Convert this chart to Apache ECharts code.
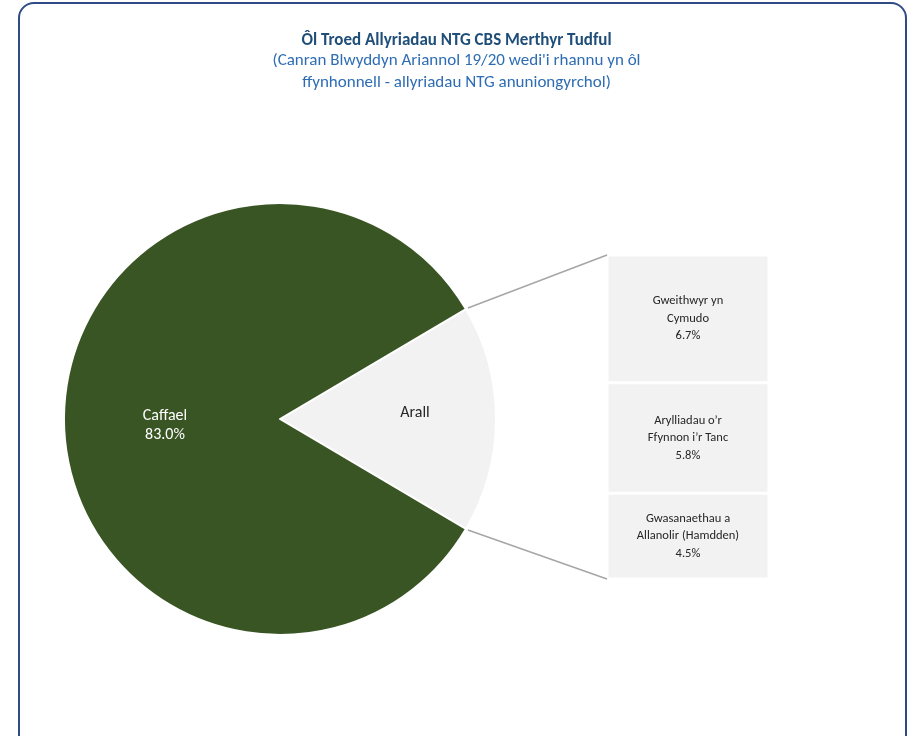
<!DOCTYPE html>
<html><head><meta charset="utf-8">
<script src="https://cdn.jsdelivr.net/npm/echarts@6/dist/echarts.min.js"></script>
<style>
html,body{margin:0;padding:0;background:#fff;}
#frame{position:absolute;left:18px;top:2px;width:889px;height:760px;border:2px solid #2f4b86;border-radius:16px;box-sizing:border-box;}
#chart{position:absolute;left:0;top:0;width:913px;height:736px;}
</style></head>
<body>
<div id="frame"></div>
<div id="chart"></div>
<script>
const pieNames = ['Arall', 'Caffael'];
const pieValues = [17.0, 83.0];
const barNames = ['Gweithwyr yn\nCymudo', 'Arylliadau o\u2019r\nFfynnon i\u2019r Tanc', 'Gwasanaethau a\nAllanolir (Hamdden)'];
const barValues = [6.7, 5.8, 4.5];
const titleText = '\u00d4l Troed Allyriadau NTG CBS Merthyr Tudful';
const subtitleText = "(Canran Blwyddyn Ariannol 19/20 wedi'i rhannu yn \u00f4l\nffynhonnell - allyriadau NTG anuniongyrchol)";

const FONT = 'Carlito, Lato, "Open Sans", sans-serif';
const pieCenter = [280, 419];
const pieRadius = 216;
const arallShare = pieValues[0] / (pieValues[0] + pieValues[1]);
const startAngle = arallShare * 360 / 2;
const barTotal = barValues.reduce((a, b) => a + b, 0);

const chart = echarts.init(document.getElementById('chart'));

const barSeries = barNames.map((n, i) => ({
  type: 'bar', name: n, stack: 'a', barWidth: '100%',
  xAxisIndex: 0, yAxisIndex: 0,
  data: [barValues[i]],
  itemStyle: { color: '#f2f2f2', borderColor: '#ffffff', borderWidth: 1.5 },
  label: { show: true, position: 'inside', color: '#262626', fontFamily: FONT, fontSize: 12.5, lineHeight: 17.5,
    formatter: p => n + '\n' + barValues[i].toFixed(1) + '%' }
}));

chart.setOption({
  animation: false,
  title: {
    text: titleText, subtext: subtitleText, left: 'center', top: 27,
    textStyle: { fontFamily: FONT, fontSize: 17, fontWeight: 'bold', color: '#1f4e79' },
    subtextStyle: { fontFamily: FONT, fontSize: 17, color: '#2e6db4', lineHeight: 22 },
    itemGap: 1
  },
  grid: { left: 607, top: 255, width: 162, height: 324 },
  xAxis: { type: 'category', data: [''], show: false },
  yAxis: { type: 'value', min: 0, max: barTotal, inverse: true, show: false },
  series: [
    {
      type: 'pie', center: pieCenter, radius: pieRadius, startAngle: startAngle, clockwise: true,
      data: pieNames.map((n, i) => ({ name: n, value: pieValues[i] })),
      itemStyle: { borderColor: '#ffffff', borderWidth: 2 },
      color: ['#f2f2f2', '#3a5524'],
      label: { show: true, position: 'inside', fontFamily: FONT, fontSize: 16, lineHeight: 19 },
      labelLine: { show: false }
    }
  ].concat(barSeries)
});

chart.setOption({
  series: [{
    data: [
      { name: pieNames[0], value: pieValues[0], label: { color: '#262626', formatter: '{b}', offset: [24, -6] } },
      { name: pieNames[1], value: pieValues[1], label: { color: '#ffffff', formatter: p => p.name + '\n' + p.value.toFixed(1) + '%', offset: [-4, 6] } }
    ]
  }]
});

const a = startAngle * Math.PI / 180;
const topEdge = [pieCenter[0] + pieRadius * Math.cos(a), pieCenter[1] - pieRadius * Math.sin(a)];
const botEdge = [pieCenter[0] + pieRadius * Math.cos(a), pieCenter[1] + pieRadius * Math.sin(a)];
const barTopLeft = chart.convertToPixel({ gridIndex: 0 }, [0, 0]);
const barBotLeft = chart.convertToPixel({ gridIndex: 0 }, [0, barTotal]);
const barLeftX = 607;
chart.setOption({
  graphic: [
    { type: 'line', shape: { x1: topEdge[0] + 2, y1: topEdge[1] - 1, x2: barLeftX, y2: barTopLeft[1] }, style: { stroke: '#a6a6a6', lineWidth: 1.5 }, z: 10 },
    { type: 'line', shape: { x1: botEdge[0] + 2, y1: botEdge[1] + 1, x2: barLeftX, y2: barBotLeft[1] }, style: { stroke: '#a6a6a6', lineWidth: 1.5 }, z: 10 }
  ]
});
</script>
</body></html>
